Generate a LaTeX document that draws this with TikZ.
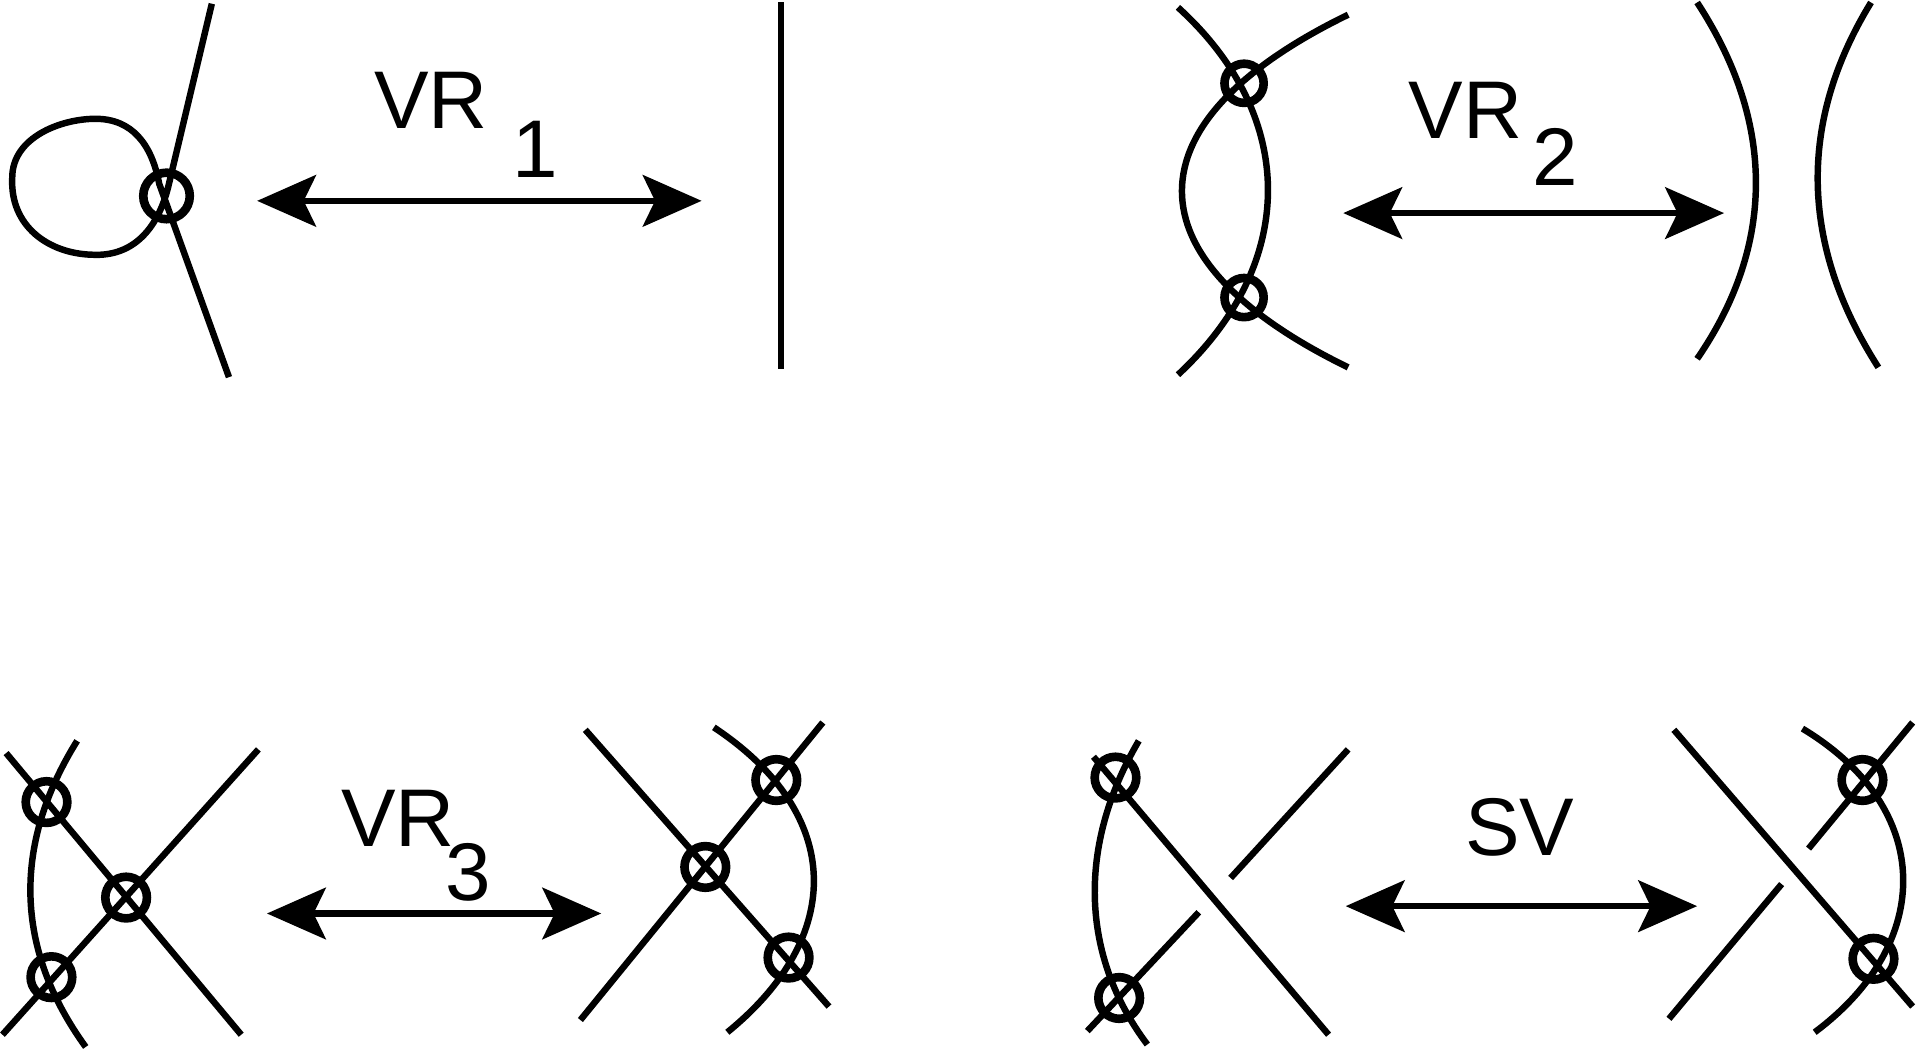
\documentclass[tikz,border=0pt]{standalone}
\usepackage{fontspec}
\setmainfont{Liberation Sans}
\usetikzlibrary{arrows.meta}
\tikzset{strand/.style={line width=1.5pt, line cap=butt},
  vcross/.style={line width=2pt},
  move/.style={line width=1.5pt, {Stealth[length=0.48cm,width=0.42cm,inset=0.1cm]}-{Stealth[length=0.48cm,width=0.42cm,inset=0.1cm]}},
  lbl/.style={font=\fontsize{19}{19}\selectfont, inner sep=0pt}}
\begin{document}
\begin{tikzpicture}[x=0.01cm, y=-0.01cm]
\useasboundingbox (0,0) rectangle (1568,856);

% -------- VR1 -----------
\draw[strand] (173,3) -- (138,150) .. controls (130,185) and (110,210) .. (75,208)
  .. controls (40,207) and (8,185) .. (10,145) .. controls (10,112) and (50,97) .. (78,97)
  .. controls (108,97) and (124,118) .. (130,150) -- (187,308);
\draw[vcross] (136,160) circle (19);
\draw[move] (210,164) -- (573,164);
\node[lbl] (vr1) at (352,82) {VR};
\node[lbl] (vr1s) at (437,122) {1};
\draw[strand] (638,2) -- (638,301);

% -------- VR2 -----------
\draw[strand] (962,6) .. controls (1060,95) and (1060,215) .. (962,306);
\draw[strand] (1101,12) .. controls (920,100) and (920,212) .. (1101,300);
\draw[vcross] (1016,68) circle (16);
\draw[vcross] (1016,243) circle (16);
\draw[move] (1097,174) -- (1408,174);
\node[lbl] (vr2) at (1197,90) {VR};
\node[lbl] (vr2s) at (1270,128) {2};
\draw[strand] (1386,2) .. controls (1450,100) and (1450,200) .. (1386,293);
\draw[strand] (1528,2) .. controls (1468,100) and (1470,200) .. (1534,300);

% -------- VR3 -----------
\draw[strand] (5,615) -- (197,845);
\draw[strand] (211,612) -- (2,845);
\draw[strand] (63,605) .. controls (10,690) and (12,775) .. (70,855);
\draw[vcross] (38,655) circle (17);
\draw[vcross] (103,733) circle (17);
\draw[vcross] (42,798) circle (17);
\draw[move] (218,746) -- (491,746);
\node[lbl] (vr3) at (325,668) {VR};
\node[lbl] (vr3s) at (382,712) {3};
\draw[strand] (478,596) -- (677,822);
\draw[strand] (672,590) -- (474,833);
\draw[strand] (583,594) .. controls (690,665) and (690,765) .. (594,843);
\draw[vcross] (634,637) circle (17);
\draw[vcross] (576,708) circle (17);
\draw[vcross] (644,782) circle (17);

% -------- SV -----------
\draw[strand] (893,618) -- (1085,845);
\draw[strand] (930,605) .. controls (880,690) and (882,780) .. (937,853);
\draw[strand] (888,842) -- (979,745);
\draw[strand] (1005,717) -- (1101,612);
\draw[vcross] (911,635) circle (17);
\draw[vcross] (914,815) circle (17);
\draw[move] (1099,740) -- (1386,740);
\node[lbl] (sv) at (1241,676) {SV};
\draw[strand] (1367,596) -- (1562,822);
\draw[strand] (1363,832) -- (1455,722);
\draw[strand] (1477,693) -- (1562,590);
\draw[strand] (1472,595) .. controls (1580,660) and (1580,770) .. (1482,843);
\draw[vcross] (1521,637) circle (17);
\draw[vcross] (1530,783) circle (17);
\end{tikzpicture}
\end{document}
